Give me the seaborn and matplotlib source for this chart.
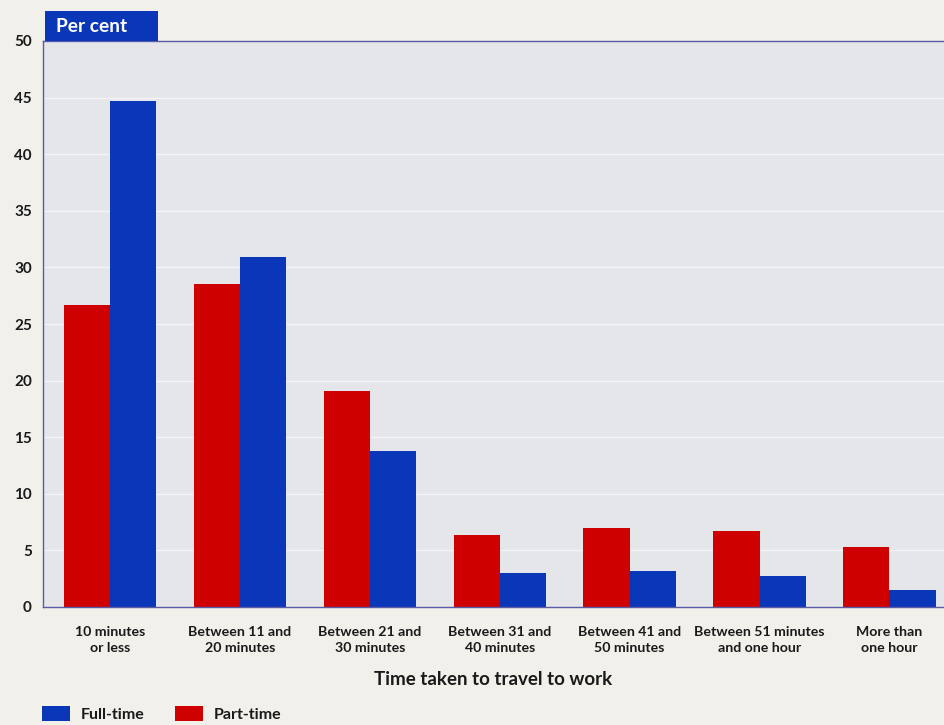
import matplotlib
matplotlib.use("Agg")
import matplotlib.pyplot as plt
import seaborn as sns
import pandas as pd

# Travel time to work, per cent of employees
categories = [
    "10 minutes\nor less",
    "Between 11 and\n20 minutes",
    "Between 21 and\n30 minutes",
    "Between 31 and\n40 minutes",
    "Between 41 and\n50 minutes",
    "Between 51 minutes\nand one hour",
    "More than\none hour",
]
part_time = [26.7, 28.5, 19.1, 6.4, 7.0, 6.7, 5.3]
full_time = [44.7, 30.9, 13.8, 3.0, 3.2, 2.7, 1.5]
y_ticks = [0, 5, 10, 15, 20, 25, 30, 35, 40, 45, 50]

df = pd.DataFrame({
    "category": categories * 2,
    "value": part_time + full_time,
    "status": ["Part-time"] * len(categories) + ["Full-time"] * len(categories),
})

RED = "#CE0000"
BLUE = "#0A36B8"
PAPER = "#F1F0EB"
PANEL = "#E5E6EA"
AXIS = "#5A5AA6"
TEXT = "#1A1A1A"

sns.set_style("white")
plt.rcParams["font.family"] = ["Lato", "DejaVu Sans"]
plt.rcParams["font.weight"] = "bold"

fig = plt.figure(figsize=(9.44, 7.25), dpi=100, facecolor=PAPER)
ax = fig.add_axes([43 / 944, 1 - 607 / 725, 1 - 43 / 944, (607 - 41) / 725])
ax.set_facecolor(PANEL)

sns.barplot(
    data=df, x="category", y="value", hue="status",
    hue_order=["Part-time", "Full-time"],
    palette={"Part-time": RED, "Full-time": BLUE},
    width=0.71, gap=0, linewidth=0, saturation=1, ax=ax,
)

ax.set_yticks(y_ticks)
ax.set_yticklabels([str(v) for v in y_ticks], fontsize=11, fontweight="bold", color=TEXT)
ax.tick_params(axis="y", length=0, pad=8)

# white horizontal guides behind the bars
ax.set_axisbelow(True)
for v in y_ticks[1:-1]:
    ax.axhline(v, color="white", lw=1.0, alpha=0.6, zorder=0)

# category labels, with boundary ticks between groups
ax.set_xticks(range(len(categories)))
ax.set_xticklabels(categories, fontsize=10.2, fontweight="bold", color=TEXT, linespacing=1.35)
ax.tick_params(axis="x", which="major", length=0, pad=14)
ax.set_xticks([i - 0.5 for i in range(len(categories))], minor=True)
ax.tick_params(axis="x", which="minor", length=12, width=0.9, color="#8A8AB0")

# limits last so tick placement does not widen the view
ax.set_ylim(0, 50)
ax.set_xlim(-0.515, 6.42)

ax.set_xlabel("Time taken to travel to work", fontsize=13.5, fontweight="bold",
              color=TEXT, labelpad=12)
ax.set_ylabel("")

ax.spines["right"].set_visible(False)
for side in ["left", "top", "bottom"]:
    ax.spines[side].set_color(AXIS)
    ax.spines[side].set_linewidth(1.0)

# unit tag above the panel
fig.patches.append(plt.Rectangle((45 / 944, 1 - 41 / 725), 113 / 944, 30 / 725,
                                 transform=fig.transFigure, facecolor=BLUE,
                                 edgecolor="none"))
fig.text(56 / 944, 1 - 26 / 725, "Per cent", color="white", fontsize=13.8,
         fontweight="bold", va="center", ha="left")

# legend below the chart, Full-time first
handles, labels = ax.get_legend_handles_labels()
ax.get_legend().remove()
order = [labels.index("Full-time"), labels.index("Part-time")]
fig.legend([handles[i] for i in order], [labels[i] for i in order],
           loc="center left", bbox_to_anchor=(42 / 944, 1 - 714 / 725),
           ncol=2, frameon=False, borderpad=0, borderaxespad=0,
           handlelength=1.78, handleheight=1.05, handletextpad=0.65,
           columnspacing=1.9, prop={"weight": "bold", "size": 11.5})
for t in fig.legends[0].get_texts():
    t.set_color(TEXT)

fig.savefig("out.png", dpi=100, facecolor=PAPER)
